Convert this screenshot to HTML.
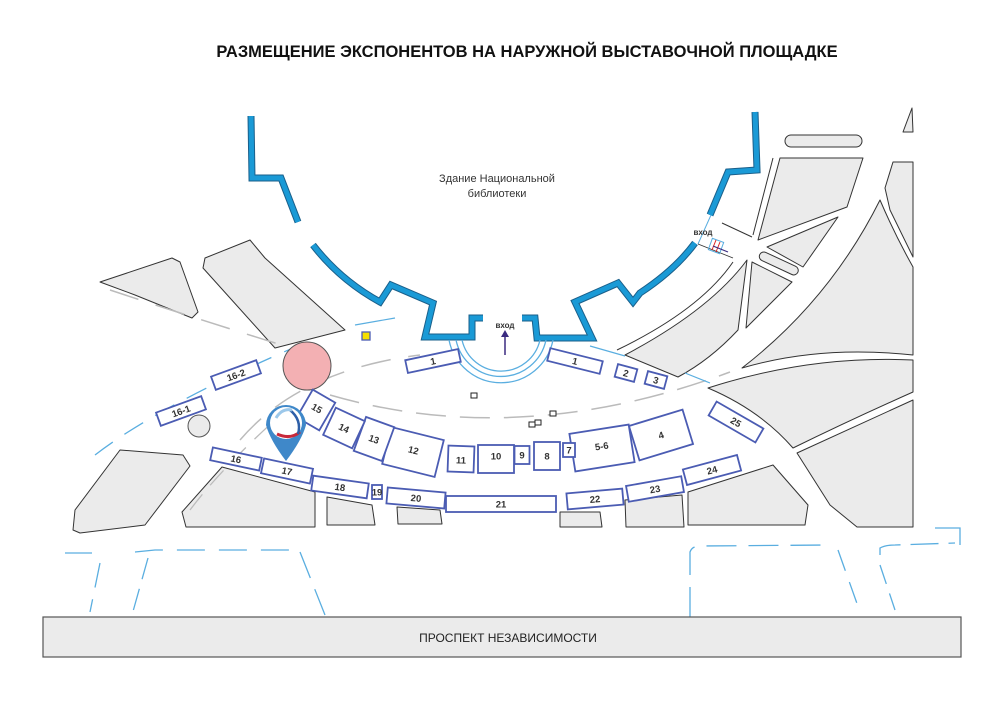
<!DOCTYPE html>
<html><head><meta charset="utf-8"><style>
html,body{margin:0;padding:0;background:#fff;}
svg{display:block;}
.b rect{fill:#fff;stroke:#4b5cb3;stroke-width:1.8;}
.b text{font:bold 9.5px "Liberation Sans",sans-serif;fill:#333;text-anchor:middle;dominant-baseline:central;}
.g{fill:#ebebeb;stroke:#333;stroke-width:1;stroke-linejoin:round;}
</style></head><body>
<svg width="1000" height="701" viewBox="0 0 1000 701" xmlns="http://www.w3.org/2000/svg">
<text x="527" y="57" font-family="Liberation Sans, sans-serif" font-weight="bold" font-size="16.5" text-anchor="middle" fill="#111">РАЗМЕЩЕНИЕ ЭКСПОНЕНТОВ НА НАРУЖНОЙ ВЫСТАВОЧНОЙ ПЛОЩАДКЕ</text>

<!-- gray blocks -->
<polygon class="g" points="100,282 172,258 180,262 198,312 192,318 135,295"/>
<polygon class="g" points="205,258 250,240 265,258 345,330 275,348 203,268"/>
<polygon class="g" points="73,530 75,510 120,450 183,455 190,466 145,525 80,533"/>
<polygon class="g" points="222,467 315,492 315,527 186,527 182,512"/>
<polygon class="g" points="327,497 372,505 375,525 327,525"/>
<polygon class="g" points="397,507 440,510 442,524 398,524"/>
<polygon class="g" points="560,512 600,512 602,527 560,527"/>
<polygon class="g" points="625,500 682,495 684,527 626,527"/>
<polygon class="g" points="688,492 773,465 808,505 805,525 688,525"/>
<polygon class="g" points="797,453 913,400 913,527 857,527 830,505"/>
<path class="g" d="M708,388 Q810,355 913,360 L913,392 Q850,420 793,448 Q760,410 708,388 Z"/>
<path class="g" d="M742,368 Q830,300 880,200 Q895,235 913,267 L913,355 Q820,345 742,368 Z"/>
<polygon class="g" points="885,188 893,162 913,162 913,257 890,210"/>
<polygon class="g" points="780,158 863,158 847,207 758,240"/>
<polygon class="g" points="767,247 838,217 803,267"/>
<polygon class="g" points="746,328 752,262 792,282"/>
<path class="g" d="M625,355 Q710,310 747,260 L738,330 Q710,360 678,377 Z"/>
<path fill="none" stroke="#333" d="M617,350 Q700,310 733,262 M722,223 L752,237 M753,235 L773,158"/>
<rect class="g" x="785" y="135" width="77" height="12" rx="6"/>
<rect class="g" x="758" y="259" width="42" height="9" rx="4.5" transform="rotate(25 779 263)"/>
<polygon class="g" points="903,132 912,108 913,132"/>

<!-- dashed paths -->
<path d="M110,290 Q200,320 330,360" fill="none" stroke="#bbb" stroke-width="1.5" stroke-dasharray="30,18"/>
<path d="M240,440 Q300,370 420,355" fill="none" stroke="#bbb" stroke-width="1.5" stroke-dasharray="30,18"/>
<path d="M330,395 Q520,450 730,372" fill="none" stroke="#bbb" stroke-width="1.5" stroke-dasharray="30,14"/>
<path d="M95,455 Q160,405 300,345" fill="none" stroke="#5aaee0" stroke-width="1.3" stroke-dasharray="22,14"/>
<path d="M190,510 Q220,470 275,420" fill="none" stroke="#bbb" stroke-width="1.3" stroke-dasharray="20,12"/>
<line x1="355" y1="325" x2="395" y2="318" stroke="#5aaee0" stroke-width="1.2"/>
<line x1="590" y1="346" x2="625" y2="356" stroke="#5aaee0" stroke-width="1.2"/>
<line x1="685" y1="373" x2="710" y2="383" stroke="#5aaee0" stroke-width="1.2"/>

<!-- building -->
<g fill="none" stroke="#1a5f8a" stroke-width="7" stroke-linejoin="miter">
<path d="M251,116 L252,178 L281,178 L298,222"/>
<path d="M313,245 Q340,280 380,302 L391,285 L433,303 L425,337 L472,337 L472,318 L483,318"/>
<path d="M522,318 L535,318 L537,338 L592,338 L575,302 L618,283 L633,302 L640,293 Q675,270 695,243"/>
<path d="M710,215 L728,172 L757,170 L755,112"/>
</g>
<g fill="none" stroke="#1a9ad6" stroke-width="5" stroke-linejoin="miter">
<path d="M251,116 L252,178 L281,178 L298,222"/>
<path d="M313,245 Q340,280 380,302 L391,285 L433,303 L425,337 L472,337 L472,318 L483,318"/>
<path d="M522,318 L535,318 L537,338 L592,338 L575,302 L618,283 L633,302 L640,293 Q675,270 695,243"/>
<path d="M710,215 L728,172 L757,170 L755,112"/>
</g>
<g fill="none" stroke="#5aaee0" stroke-width="1.3">
<path d="M462,340 A40,40 0 0 0 540,340"/>
<path d="M456,340 A46,46 0 0 0 546,340"/>
<path d="M449,340 A53,53 0 0 0 553,340"/>
</g>
<line x1="505" y1="355" x2="505" y2="335" stroke="#3a2a80" stroke-width="1.5"/>
<polygon points="501,337 509,337 505,330" fill="#3a2a80"/>
<text x="505" y="328" font-family="Liberation Sans, sans-serif" font-weight="bold" font-size="8" text-anchor="middle" fill="#333">вход</text>
<line x1="711" y1="215" x2="698" y2="244" stroke="#5aaee0" stroke-width="1"/>
<line x1="698" y1="244" x2="733" y2="258" stroke="#333" stroke-width="0.8"/>
<rect x="710" y="240" width="12" height="12" fill="none" stroke="#5aaee0" transform="rotate(20 716 246)"/>
<line x1="712" y1="250" x2="716" y2="240" stroke="#d22" stroke-width="1"/>
<line x1="716" y1="252" x2="720" y2="242" stroke="#d22" stroke-width="1"/>
<line x1="713" y1="246" x2="728" y2="252" stroke="#3a2a80" stroke-width="1.2"/>
<text x="703" y="235" font-family="Liberation Sans, sans-serif" font-weight="bold" font-size="8" text-anchor="middle" fill="#333">вход</text>
<text x="497" y="182" font-family="Liberation Sans, sans-serif" font-size="11" text-anchor="middle" fill="#333">Здание Национальной</text>
<text x="497" y="197" font-family="Liberation Sans, sans-serif" font-size="11" text-anchor="middle" fill="#333">библиотеки</text>

<!-- small features -->
<rect x="362" y="332" width="8" height="8" fill="#f5e000" stroke="#4b5cb3" stroke-width="1.3"/>
<circle cx="307" cy="366" r="24" fill="#f3b0b3" stroke="#555" stroke-width="1"/>
<circle cx="199" cy="426" r="11" fill="#ebebeb" stroke="#555" stroke-width="1"/>
<g fill="#fff" stroke="#222" stroke-width="1">
<rect x="471" y="393" width="6" height="5"/><rect x="550" y="411" width="6" height="5"/>
<rect x="529" y="422" width="6" height="5"/><rect x="535" y="420" width="6" height="5"/>
</g>

<!-- booths -->
<g class="b">
<g transform="translate(433,361) rotate(-12)"><rect x="-27" y="-6.5" width="54" height="13"/><text y="1">1</text></g>
<g transform="translate(575,361) rotate(14)"><rect x="-27" y="-6.5" width="54" height="13"/><text y="1">1</text></g>
<g transform="translate(626,373) rotate(15)"><rect x="-10" y="-6.5" width="20" height="13"/><text y="1">2</text></g>
<g transform="translate(656,380) rotate(15)"><rect x="-10" y="-6.5" width="20" height="13"/><text y="1">3</text></g>
<g transform="translate(736,422) rotate(30)"><rect x="-27" y="-8" width="54" height="16"/><text y="1">25</text></g>
<g transform="translate(661,435) rotate(-17)"><rect x="-28" y="-18" width="56" height="36"/><text y="1">4</text></g>
<g transform="translate(602,448) rotate(-9)"><rect x="-30" y="-19" width="60" height="38"/><text y="-1">5-6</text></g>
<g transform="translate(569,450)"><rect x="-6" y="-7" width="12" height="14"/><text y="1">7</text></g>
<g transform="translate(547,456)"><rect x="-13" y="-14" width="26" height="28"/><text y="1">8</text></g>
<g transform="translate(522,455)"><rect x="-7.5" y="-9" width="15" height="18"/><text y="1">9</text></g>
<g transform="translate(496,459)"><rect x="-18" y="-14" width="36" height="28"/><text y="-2">10</text></g>
<g transform="translate(461,459) rotate(2)"><rect x="-13" y="-13" width="26" height="26"/><text y="2">11</text></g>
<g transform="translate(413,452) rotate(14)"><rect x="-27" y="-19" width="54" height="38"/><text y="-1">12</text></g>
<g transform="translate(374,439) rotate(20)"><rect x="-15" y="-18" width="30" height="36"/><text y="1">13</text></g>
<g transform="translate(344,428) rotate(25)"><rect x="-16" y="-15" width="32" height="30"/><text y="1">14</text></g>
<g transform="translate(316,410) rotate(30)"><rect x="-13" y="-16" width="26" height="32"/><text y="-1">15</text></g>
<g transform="translate(236,459) rotate(12)"><rect x="-25" y="-6.5" width="50" height="13"/><text y="1">16</text></g>
<g transform="translate(287,471) rotate(12)"><rect x="-25" y="-7.5" width="50" height="15"/><text y="1">17</text></g>
<g transform="translate(340,487) rotate(8)"><rect x="-28" y="-7.5" width="56" height="15"/><text y="1">18</text></g>
<g transform="translate(377,492)"><rect x="-5" y="-7" width="10" height="14"/><text y="1">19</text></g>
<g transform="translate(416,498) rotate(5)"><rect x="-29" y="-8" width="58" height="16"/><text y="1">20</text></g>
<g transform="translate(501,504)"><rect x="-55" y="-8" width="110" height="16"/><text y="1">21</text></g>
<g transform="translate(595,499) rotate(-5)"><rect x="-28" y="-8" width="56" height="16"/><text y="1">22</text></g>
<g transform="translate(655,489) rotate(-10)"><rect x="-28" y="-8" width="56" height="16"/><text y="1">23</text></g>
<g transform="translate(712,470) rotate(-15)"><rect x="-28" y="-8" width="56" height="16"/><text y="1">24</text></g>
<g transform="translate(181,411) rotate(-20)"><rect x="-24" y="-7" width="48" height="14"/><text y="1">16-1</text></g>
<g transform="translate(236,375) rotate(-20)"><rect x="-24" y="-7" width="48" height="14"/><text y="1">16-2</text></g>
</g>

<!-- marker -->
<path d="M266,425 A20,20 0 1 1 306,425 Q302,440 286,461 Q270,440 266,425 Z" fill="#3f88c9"/>
<circle cx="286" cy="423" r="16" fill="#fff"/>
<path d="M277,434 Q290,440 300,432" stroke="#c8283a" stroke-width="3" fill="none"/>
<path d="M290,410 Q302,420 298,434" stroke="#2d5fa8" stroke-width="2.5" fill="none"/>
<path d="M276,418 Q282,408 292,410" stroke="#9cc8ea" stroke-width="3" fill="none"/>

<!-- bottom blue dashes -->
<g fill="none" stroke="#5aaee0" stroke-width="1.3">
<path d="M65,553 L92,553" />
<path d="M100,563 L90,612" stroke-dasharray="25,12"/>
<path d="M135,552 L155,550 L300,550" stroke-dasharray="28,14"/>
<path d="M148,558 L132,615" stroke-dasharray="22,10"/>
<path d="M300,552 L325,615" stroke-dasharray="28,12"/>
<path d="M690,617 L690,552 Q692,546 700,546 L830,545" stroke-dasharray="30,12"/>
<path d="M838,550 L860,612" stroke-dasharray="22,12"/>
<path d="M880,555 L880,548 Q885,545 895,545 L955,543" stroke-dasharray="28,10"/>
<path d="M880,565 L895,610" stroke-dasharray="20,10"/>
<path d="M935,528 L960,528 L960,545"/>
</g>

<rect x="43" y="617" width="918" height="40" fill="#ebebeb" stroke="#555" stroke-width="1.2"/>
<text x="508" y="642" font-family="Liberation Sans, sans-serif" font-size="12" text-anchor="middle" fill="#222">ПРОСПЕКТ НЕЗАВИСИМОСТИ</text>
</svg>
</body></html>
